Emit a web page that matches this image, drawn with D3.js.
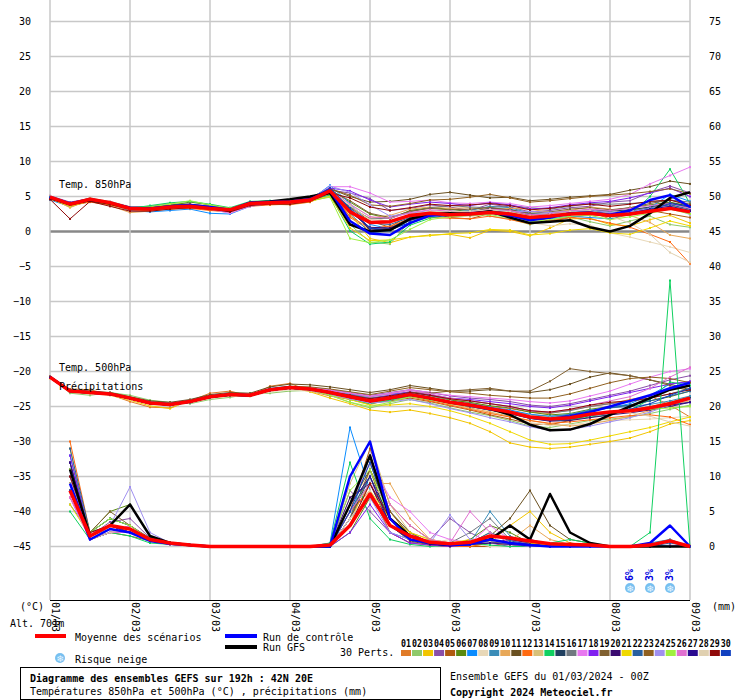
<!DOCTYPE html>
<html><head><meta charset="utf-8">
<script src="https://cdn.jsdelivr.net/npm/d3@7"></script>
<style>body{margin:0;background:#fff}text{font-family:"DejaVu Sans Mono",monospace;font-size:10px}</style>
</head><body><svg id="c" width="740" height="700"></svg>
<script>
const dates=["01/03","02/03","03/03","04/03","05/03","06/03","07/03","08/03","09/03"];
const leftTicks=[30,25,20,15,10,5,0,-5,-10,-15,-20,-25,-30,-35,-40,-45];
const rightTicks=[75,70,65,60,55,50,45,40,35,30,25,20,15,10,5,0];
const colors=["#e07b28","#8fc96a","#f2c500","#8a4fa8","#b05a10","#5a8a10","#0a8cff","#e8d8b8","#3a8cb8","#e8a858","#6a5020","#ff6a10","#d8c078","#10d060","#204060","#707880","#e878f0","#8020f0","#806030","#3a0a70","#f0d800","#2860a0","#906020","#a090f0","#a0f040","#e070d0","#2a0a90","#e0d0b0","#900a0a","#1040c0"];
const snowRisk=[{i:29,p:"6%"},{i:30,p:"3%"},{i:31,p:"3%"}];

const mean850=[4.9,3.9,4.6,4.1,3.3,3.2,3.5,3.6,3.3,3.1,4.0,4.1,4.2,4.5,5.8,2.8,1.3,1.4,2.3,2.6,2.4,2.5,2.7,2.5,2.0,2.2,2.5,2.6,2.3,2.5,2.9,3.3,2.8];
const ctrl850=[4.9,4.0,4.6,4.1,3.4,3.3,3.6,3.8,3.5,3.1,4.1,4.2,4.3,4.6,5.9,1.5,-0.3,-0.5,1.2,2.3,2.4,2.5,2.8,2.3,1.6,2.0,2.6,2.7,2.4,3.0,4.5,5.2,3.5];
const gfs850=[4.8,3.9,4.5,4.0,3.3,3.2,3.5,3.7,3.4,3.0,4.1,4.3,4.6,5.0,5.5,1.0,0.0,0.2,1.8,2.5,2.6,2.5,2.9,2.0,1.2,1.4,1.6,0.6,0.0,0.8,2.6,4.8,5.6];
const pert850=[
[4.7,3.5,4.4,3.9,3.0,3.3,3.6,3.8,3.2,2.9,3.9,4.2,4.0,4.6,6.2,2.0,0.2,0.5,2.0,2.8,2.2,2.6,3.0,2.0,1.5,2.6,3.0,2.8,1.8,2.4,3.5,4.0,3.4],
[5.0,4.0,4.8,4.2,3.4,3.6,4.0,3.9,3.0,3.2,4.1,4.0,4.4,4.8,5.5,1.0,-1.5,-1.8,1.5,2.4,2.7,3.0,2.2,1.8,1.0,1.6,2.1,1.4,0.8,1.5,2.2,1.0,0.6],
[4.6,3.8,4.5,4.0,3.1,3.0,3.2,3.5,3.4,3.0,3.8,4.0,4.2,4.4,5.0,2.5,-1.0,-1.6,-0.8,-0.5,-0.4,-0.9,0.2,0.0,-0.6,0.5,1.8,1.9,1.0,0.8,1.7,2.3,1.2],
[5.1,4.2,4.7,4.3,3.5,3.4,3.8,3.9,3.6,3.2,4.0,4.3,4.1,4.7,5.9,5.5,4.7,3.0,3.3,3.8,3.5,3.0,3.9,3.5,2.8,3.0,3.4,3.6,4.2,4.4,5.6,6.5,5.5],
[4.8,3.7,4.3,3.8,3.2,3.1,3.3,3.4,3.3,3.0,3.9,4.0,3.9,4.3,5.6,3.5,1.5,0.6,2.5,2.7,2.0,1.8,2.6,2.9,2.3,1.4,2.0,2.4,2.2,3.2,3.0,2.5,2.0],
[4.9,4.0,4.6,4.1,3.3,3.5,3.7,4.2,3.8,3.3,4.2,4.3,4.3,4.8,6.0,4.2,2.5,1.8,3.0,3.4,3.2,2.8,3.3,3.0,1.6,1.9,2.8,2.9,3.0,3.4,3.8,4.2,3.6],
[4.5,3.6,4.4,4.0,3.0,2.8,3.0,3.2,2.6,2.5,3.6,4.0,4.0,4.5,6.6,4.0,1.0,0.4,1.2,2.1,2.6,2.4,2.8,3.2,2.5,1.8,2.2,2.0,1.8,2.6,3.4,5.3,4.3],
[5.0,3.9,4.8,4.3,3.6,3.4,3.5,3.6,3.4,3.1,4.1,4.1,4.2,4.6,5.9,3.9,2.2,1.3,1.9,2.5,2.3,2.1,2.6,2.0,1.3,0.8,1.1,0.9,-0.2,-0.8,-1.5,-2.2,-3.0],
[4.7,3.8,4.5,4.0,3.2,3.3,3.4,3.7,3.5,3.0,4.0,4.1,4.1,4.4,5.7,2.6,-0.2,0.1,1.6,2.2,2.8,3.0,3.6,3.4,2.6,2.4,2.9,3.1,2.6,2.7,3.2,3.9,3.0],
[4.8,3.4,4.6,3.7,2.7,2.9,3.3,3.5,3.1,2.7,3.7,3.9,3.8,4.2,5.5,3.3,1.9,2.3,3.2,3.5,3.3,3.4,3.1,3.3,3.2,2.7,3.0,3.5,3.2,2.3,1.3,-0.5,-1.0],
[5.0,4.0,4.7,4.2,3.5,3.5,3.8,3.9,3.6,3.2,4.1,4.3,4.4,4.9,6.1,5.0,4.2,4.3,4.6,5.3,5.6,5.2,4.8,4.9,4.4,4.6,4.9,5.1,5.3,5.9,6.4,7.2,6.8],
[4.6,3.7,4.2,3.8,3.1,3.0,3.2,3.3,3.0,2.8,3.6,3.8,3.9,4.2,5.4,2.2,0.4,0.8,1.8,2.0,1.9,1.8,2.2,1.7,1.1,1.5,2.0,1.8,1.2,0.6,-0.4,-1.5,-4.6],
[4.9,3.9,4.6,4.1,3.4,3.3,3.6,3.8,3.6,3.2,4.0,4.2,4.2,4.6,5.8,3.0,1.2,1.3,2.2,2.5,2.6,2.8,3.1,2.6,2.1,2.3,2.7,2.9,2.6,3.0,3.5,3.7,3.1],
[4.8,3.8,4.5,4.0,3.3,3.7,4.1,4.3,3.9,3.4,4.3,4.4,4.3,4.6,5.2,0.1,-1.8,-1.5,0.9,1.9,2.4,2.6,2.9,2.4,1.7,2.0,2.5,2.6,2.1,2.4,5.0,8.9,4.0],
[4.9,3.8,4.5,4.0,3.3,3.3,3.6,3.8,3.5,3.1,4.0,4.1,4.2,4.7,6.3,3.2,0.2,0.4,1.9,2.7,2.9,2.8,3.3,3.1,2.4,2.5,2.8,3.0,2.9,3.1,3.5,4.1,3.6],
[4.7,3.7,4.4,4.0,3.2,3.1,3.3,3.6,3.4,3.0,3.9,4.0,4.0,4.4,5.6,3.6,1.8,1.9,2.8,3.4,3.7,3.5,3.4,3.7,3.4,3.2,3.6,4.0,3.9,4.0,4.2,4.5,4.2],
[5.0,4.0,4.7,4.2,3.4,3.3,3.5,3.8,3.2,2.6,3.6,4.0,4.1,4.5,6.4,6.4,5.5,4.2,4.3,4.5,4.1,4.0,4.2,4.0,3.5,3.7,4.0,4.3,4.6,5.3,6.8,8.0,9.2],
[4.8,3.8,4.6,4.1,3.3,3.2,3.4,3.7,3.4,3.0,4.0,4.1,4.2,4.6,6.2,5.8,4.5,3.5,3.9,4.2,4.0,3.7,4.1,3.8,3.2,3.4,3.8,4.1,4.3,4.8,5.5,6.2,5.0],
[4.9,3.9,4.6,4.1,3.3,3.3,3.5,3.7,3.5,3.1,4.1,4.2,4.2,4.6,5.9,4.4,2.6,2.0,2.9,3.3,3.1,3.2,3.4,3.1,2.6,2.8,3.2,3.4,3.1,3.4,4.0,4.5,3.9],
[4.8,3.9,4.5,4.0,3.2,3.2,3.4,3.6,3.4,3.0,3.9,4.1,4.1,4.5,5.8,2.8,0.6,0.5,1.7,2.3,2.2,2.3,2.6,2.2,1.8,2.2,2.6,2.7,2.2,2.5,3.0,3.4,2.9],
[4.7,3.6,4.4,3.9,3.2,3.1,3.3,3.5,3.3,2.9,3.8,3.9,4.0,4.3,5.0,0.5,-1.3,-1.2,-0.8,-0.6,-0.3,-0.2,0.3,0.2,-0.5,-0.3,0.2,0.4,-0.2,-0.4,0.5,1.5,0.8],
[4.9,3.8,4.6,4.1,3.3,3.2,3.4,3.6,3.4,3.0,4.0,4.1,4.2,4.6,6.0,3.4,1.2,1.0,2.0,2.6,2.5,2.6,2.9,2.6,2.0,2.2,2.6,2.8,2.5,2.8,3.4,3.8,3.2],
[5.0,4.0,4.7,4.2,3.4,3.4,3.6,3.8,3.6,3.2,4.1,4.2,4.3,4.7,6.1,5.2,3.8,3.6,4.0,4.5,4.6,4.9,5.3,4.8,4.2,4.4,4.7,5.0,5.2,5.4,5.7,6.1,5.4],
[4.8,3.8,4.5,4.0,3.2,3.1,3.3,3.5,3.2,2.8,3.8,4.0,4.1,4.6,6.5,5.6,3.8,2.2,2.6,3.0,2.6,2.4,2.5,2.8,2.9,2.7,2.9,3.1,2.7,2.8,3.3,3.6,2.4],
[4.8,3.7,4.5,4.0,3.3,3.5,3.9,4.4,3.8,3.3,4.1,4.2,4.2,4.4,4.9,-1.0,-1.6,-1.2,0.3,1.7,2.1,2.3,2.4,2.0,1.4,1.7,2.2,2.3,1.7,2.1,2.6,3.2,2.5],
[4.9,3.9,4.6,4.1,3.3,3.2,3.4,3.6,3.3,2.9,3.9,4.1,4.2,4.6,5.9,3.9,2.1,1.9,2.7,3.1,2.9,2.8,3.2,3.0,2.4,2.5,2.9,3.2,3.0,3.3,3.7,4.0,3.3],
[4.7,3.8,4.4,4.0,3.2,3.2,3.4,3.6,3.4,3.0,3.9,4.0,4.1,4.5,6.0,3.1,0.4,0.3,1.6,2.4,2.6,2.7,3.0,2.7,2.0,2.1,2.5,2.7,2.3,2.6,3.2,3.6,3.0],
[5.0,4.0,4.7,4.2,3.4,3.3,3.5,3.7,3.5,3.1,4.0,4.2,4.2,4.6,5.8,3.7,1.7,1.5,2.4,2.9,2.8,2.9,3.1,2.8,2.2,2.4,2.8,3.0,2.2,1.2,-0.4,-3.0,-4.4],
[4.6,1.8,4.3,3.6,2.9,2.9,3.2,3.4,3.2,2.8,3.7,3.9,3.9,4.3,5.5,4.8,3.5,3.0,3.4,3.9,3.7,3.8,4.0,3.7,3.1,3.3,3.7,3.9,3.6,3.9,4.3,4.5,3.7],
[4.9,3.9,4.6,4.1,3.4,3.4,3.6,3.8,3.5,3.1,4.0,4.2,4.3,4.7,6.2,3.3,0.5,0.2,1.3,2.2,2.5,2.6,2.9,2.5,1.8,2.0,2.4,2.6,2.2,2.5,3.1,4.0,3.5]];

const mean500=[-20.8,-22.8,-23.0,-23.2,-23.8,-24.5,-24.7,-24.3,-23.6,-23.3,-23.4,-22.6,-22.3,-22.5,-23.0,-23.6,-24.2,-23.8,-23.3,-23.8,-24.4,-24.8,-25.3,-25.8,-26.5,-26.8,-26.6,-26.1,-25.8,-25.6,-25.2,-24.6,-23.8];
const ctrl500=[-20.8,-22.8,-23.0,-23.2,-23.8,-24.5,-24.7,-24.3,-23.6,-23.3,-23.4,-22.6,-22.3,-22.5,-23.0,-23.6,-24.2,-23.8,-23.3,-23.8,-24.4,-24.8,-25.3,-25.8,-26.5,-26.8,-26.4,-25.8,-25.0,-24.2,-23.4,-22.4,-21.6];
const gfs500=[-20.8,-22.8,-23.0,-23.2,-23.8,-24.5,-24.7,-24.3,-23.6,-23.3,-23.4,-22.6,-22.3,-22.5,-23.0,-23.6,-24.2,-23.8,-23.3,-23.8,-24.4,-24.8,-25.3,-26.2,-27.6,-28.4,-28.3,-27.5,-26.2,-25.0,-23.8,-22.6,-22.0];
const pert500=[
[-20.9,-22.5,-22.6,-23.3,-24.3,-25.1,-25.2,-24.2,-23.1,-22.8,-23.5,-22.1,-21.7,-22.8,-23.5,-24.0,-24.7,-24.0,-23.0,-23.4,-24.0,-24.5,-25.0,-25.3,-25.8,-26.0,-25.5,-25.0,-24.6,-24.0,-23.5,-24.8,-26.5],
[-20.7,-23.1,-23.4,-23.0,-23.4,-24.1,-24.4,-24.6,-24.0,-23.7,-23.2,-23.1,-22.8,-22.7,-23.4,-24.4,-25.2,-24.6,-24.0,-24.5,-25.2,-25.8,-26.3,-27.0,-27.8,-28.0,-27.5,-27.0,-26.8,-26.5,-26.0,-25.4,-24.8],
[-21.0,-22.8,-23.0,-23.4,-24.1,-24.9,-25.3,-24.1,-23.5,-23.2,-23.3,-22.5,-22.2,-22.9,-23.8,-24.6,-25.5,-25.8,-25.5,-26.0,-26.6,-27.4,-28.6,-30.2,-30.8,-31.0,-30.8,-30.4,-30.0,-29.5,-28.6,-27.5,-27.0],
[-20.8,-22.7,-23.0,-23.1,-23.7,-24.4,-24.7,-24.4,-23.7,-23.4,-23.4,-22.7,-22.3,-22.3,-22.6,-23.0,-23.4,-23.0,-22.6,-23.0,-23.5,-23.8,-24.0,-24.3,-24.8,-25.0,-24.6,-24.0,-23.4,-22.8,-22.0,-21.2,-20.6],
[-20.9,-22.9,-23.1,-23.3,-23.9,-24.6,-24.8,-24.3,-23.6,-23.3,-23.5,-22.6,-22.2,-22.4,-23.1,-23.8,-24.5,-24.2,-23.8,-24.3,-24.9,-25.5,-26.2,-26.8,-27.5,-27.6,-27.0,-26.2,-25.8,-25.5,-25.0,-24.4,-23.6],
[-20.8,-22.8,-22.9,-23.2,-23.8,-24.5,-24.6,-24.2,-23.5,-23.3,-23.3,-22.5,-22.3,-22.5,-22.9,-23.3,-23.8,-23.5,-23.0,-23.5,-24.1,-24.4,-24.9,-25.2,-25.8,-26.2,-26.0,-25.4,-25.0,-24.8,-24.2,-23.6,-22.8],
[-20.7,-22.6,-22.8,-23.1,-23.7,-24.3,-24.5,-24.1,-23.4,-23.1,-23.3,-22.4,-22.1,-22.4,-22.8,-23.2,-23.6,-23.2,-23.0,-23.6,-24.2,-24.6,-25.1,-25.5,-26.1,-26.4,-26.2,-25.7,-25.2,-24.6,-23.4,-21.8,-21.5],
[-21.0,-22.9,-23.2,-23.4,-24.0,-24.7,-24.9,-24.5,-23.8,-23.5,-23.6,-22.9,-22.6,-22.8,-23.3,-23.8,-24.3,-24.0,-23.6,-24.1,-24.8,-25.3,-25.9,-26.5,-27.3,-27.7,-27.6,-27.3,-27.0,-26.9,-26.8,-26.6,-26.4],
[-20.8,-22.7,-22.9,-23.2,-23.8,-24.5,-24.7,-24.3,-23.6,-23.3,-23.4,-22.6,-22.3,-22.5,-23.0,-23.5,-24.0,-23.6,-23.1,-23.7,-24.3,-24.7,-25.2,-25.6,-26.2,-26.4,-26.1,-25.5,-25.2,-25.0,-24.7,-24.2,-23.5],
[-20.9,-22.8,-23.0,-23.3,-23.9,-24.6,-24.8,-24.4,-23.7,-23.4,-23.5,-22.7,-22.4,-22.6,-23.1,-23.6,-24.2,-23.9,-23.5,-24.0,-24.6,-25.2,-25.8,-26.4,-27.0,-27.5,-27.8,-27.5,-27.0,-26.4,-25.6,-24.8,-24.2],
[-20.7,-22.6,-22.8,-23.0,-23.6,-24.2,-24.4,-24.0,-23.3,-23.0,-23.1,-22.2,-21.8,-21.9,-22.2,-22.6,-23.0,-22.6,-22.0,-22.4,-22.8,-22.8,-22.6,-22.8,-23.0,-22.6,-21.8,-20.8,-20.2,-20.6,-21.2,-21.8,-22.6],
[-20.9,-22.9,-23.1,-23.3,-23.9,-24.6,-24.8,-24.4,-23.7,-23.4,-23.5,-22.7,-22.4,-22.7,-23.2,-23.8,-24.4,-24.0,-23.6,-24.2,-24.8,-25.4,-26.0,-26.5,-27.0,-27.4,-27.2,-26.9,-26.6,-26.3,-26.2,-26.5,-27.6],
[-20.8,-22.8,-23.0,-23.2,-23.8,-24.5,-24.7,-24.3,-23.6,-23.3,-23.4,-22.6,-22.3,-22.5,-23.0,-23.6,-24.2,-23.8,-23.3,-23.9,-24.5,-25.0,-25.6,-26.1,-26.7,-27.0,-26.8,-26.3,-26.0,-25.8,-25.4,-24.9,-24.3],
[-20.8,-22.7,-22.9,-23.2,-23.8,-24.5,-24.7,-24.3,-23.6,-23.3,-23.4,-22.6,-22.3,-22.6,-23.2,-24.0,-24.6,-24.1,-23.5,-24.0,-24.5,-24.9,-25.4,-25.9,-26.6,-27.0,-26.9,-26.5,-26.2,-25.5,-24.0,-21.5,-22.0],
[-20.9,-22.8,-23.0,-23.3,-23.9,-24.6,-24.8,-24.3,-23.6,-23.3,-23.4,-22.6,-22.3,-22.5,-23.0,-23.5,-24.1,-23.7,-23.2,-23.8,-24.4,-24.8,-25.3,-25.8,-26.5,-26.8,-26.6,-26.1,-25.8,-25.6,-25.2,-24.6,-23.8],
[-20.8,-22.8,-23.0,-23.2,-23.8,-24.5,-24.7,-24.3,-23.6,-23.3,-23.4,-22.6,-22.3,-22.4,-22.8,-23.3,-23.8,-23.4,-22.9,-23.4,-23.9,-24.2,-24.6,-25.0,-25.6,-25.9,-25.6,-25.0,-24.6,-24.3,-23.8,-23.2,-22.4],
[-20.7,-22.7,-22.9,-23.1,-23.7,-24.4,-24.6,-24.2,-23.5,-23.2,-23.3,-22.5,-22.2,-22.3,-22.7,-23.1,-23.5,-23.1,-22.6,-23.0,-23.4,-23.6,-23.8,-24.0,-24.3,-24.5,-24.2,-23.5,-22.8,-21.8,-20.8,-20.0,-19.6],
[-20.8,-22.8,-23.0,-23.2,-23.8,-24.5,-24.7,-24.3,-23.6,-23.3,-23.4,-22.6,-22.3,-22.5,-22.9,-23.4,-23.9,-23.4,-22.9,-23.3,-23.8,-24.0,-24.3,-24.6,-25.0,-25.2,-24.8,-24.2,-23.6,-23.0,-22.4,-21.8,-21.4],
[-20.9,-22.8,-23.0,-23.3,-23.9,-24.6,-24.8,-24.4,-23.7,-23.4,-23.5,-22.7,-22.4,-22.6,-23.1,-23.6,-24.1,-23.6,-23.0,-23.1,-22.8,-22.6,-22.4,-22.8,-22.8,-21.4,-19.6,-20.0,-20.3,-20.6,-21.2,-22.0,-22.8],
[-20.8,-22.8,-23.0,-23.2,-23.8,-24.5,-24.7,-24.3,-23.6,-23.3,-23.4,-22.6,-22.3,-22.5,-23.0,-23.6,-24.2,-23.8,-23.4,-23.9,-24.5,-25.0,-25.5,-26.0,-26.7,-27.1,-27.0,-26.6,-26.2,-25.9,-25.5,-25.0,-24.4],
[-20.9,-22.9,-23.1,-23.3,-23.9,-24.6,-24.8,-24.4,-23.7,-23.4,-23.5,-22.7,-22.4,-22.7,-23.3,-24.0,-24.8,-24.8,-24.6,-25.0,-25.6,-26.4,-27.4,-28.6,-29.8,-30.4,-30.3,-29.8,-29.2,-28.6,-28.0,-27.2,-26.5],
[-20.8,-22.8,-23.0,-23.2,-23.8,-24.5,-24.7,-24.3,-23.6,-23.3,-23.4,-22.6,-22.3,-22.5,-23.0,-23.6,-24.2,-23.8,-23.3,-23.8,-24.4,-24.8,-25.3,-25.8,-26.4,-26.6,-26.2,-25.6,-25.2,-24.8,-24.2,-23.5,-22.8],
[-20.7,-22.7,-22.9,-23.1,-23.7,-24.4,-24.6,-24.2,-23.5,-23.2,-23.3,-22.5,-22.1,-22.2,-22.5,-22.9,-23.3,-22.8,-22.3,-22.6,-22.9,-23.1,-23.4,-23.6,-23.8,-23.8,-23.2,-22.4,-21.6,-21.0,-20.8,-21.0,-21.6],
[-20.9,-22.9,-23.1,-23.3,-23.9,-24.6,-24.8,-24.4,-23.7,-23.4,-23.5,-22.7,-22.4,-22.7,-23.3,-23.9,-24.5,-24.3,-24.0,-24.6,-25.3,-25.9,-26.6,-27.2,-27.9,-28.4,-28.3,-27.8,-27.2,-26.6,-25.8,-24.8,-24.0],
[-20.8,-22.7,-22.9,-23.2,-23.8,-24.5,-24.7,-24.3,-23.6,-23.3,-23.4,-22.6,-22.3,-22.6,-23.4,-24.4,-25.0,-24.4,-23.6,-24.0,-24.6,-25.0,-25.4,-25.8,-26.4,-26.6,-26.4,-26.0,-25.8,-25.6,-25.4,-25.2,-25.0],
[-20.8,-22.8,-23.0,-23.2,-23.8,-24.5,-24.7,-24.3,-23.6,-23.3,-23.4,-22.6,-22.3,-22.4,-22.7,-23.1,-23.6,-23.2,-22.7,-23.2,-23.8,-24.2,-24.6,-25.1,-25.6,-25.8,-25.4,-24.8,-24.2,-23.6,-22.4,-20.8,-19.4],
[-20.9,-22.8,-23.0,-23.3,-23.9,-24.6,-24.8,-24.4,-23.7,-23.4,-23.5,-22.7,-22.4,-22.6,-23.1,-23.6,-24.1,-23.7,-23.3,-23.8,-24.4,-24.9,-25.5,-26.0,-26.6,-26.9,-26.7,-26.2,-25.9,-25.6,-25.2,-24.8,-24.4],
[-20.8,-22.8,-23.0,-23.2,-23.8,-24.5,-24.7,-24.3,-23.6,-23.3,-23.4,-22.6,-22.3,-22.5,-23.0,-23.5,-24.0,-23.6,-23.1,-23.6,-24.2,-24.7,-25.2,-25.7,-26.3,-26.6,-26.4,-26.0,-25.8,-25.9,-26.4,-27.2,-27.8],
[-20.8,-22.7,-22.9,-23.2,-23.8,-24.5,-24.7,-24.3,-23.6,-23.3,-23.4,-22.6,-22.3,-22.5,-22.9,-23.4,-23.9,-23.5,-23.0,-23.4,-23.9,-24.2,-24.6,-25.0,-25.6,-25.8,-25.4,-24.8,-24.4,-24.2,-23.8,-23.2,-22.6],
[-20.9,-22.8,-23.0,-23.3,-23.9,-24.6,-24.8,-24.4,-23.7,-23.4,-23.5,-22.7,-22.4,-22.6,-23.1,-23.7,-24.3,-23.9,-23.4,-23.9,-24.5,-25.0,-25.5,-26.0,-26.7,-27.0,-26.8,-26.3,-26.0,-25.4,-24.6,-23.4,-22.4]];

const meanP=[null,8,1.5,3,2.5,1,0.5,0.2,0,0,0,0,0,0,0.2,3,7.5,3,1.5,0.6,0.4,0.6,1.5,1.2,0.8,0.4,0.3,0.2,0,0,0.2,0.8,0];
const ctrlP=[null,9,1,2.5,2,0.8,0.4,0.2,0,0,0,0,0,0,0,10,15,4,1,0.5,0.2,0.3,1,0.5,0.2,0,0,0,0,0,0.5,3,0];
const gfsP=[null,11,1.5,3,6,1.5,0.5,0.2,0,0,0,0,0,0,0,6,13,4,1.5,0.5,0.2,0.5,1,3,1,7.5,2,0.5,0,0,0,0,0];
const pertP=[
[null,12,1.5,3,2,0.8,0.5,0.3,0,0,0,0,0,0,0,4,9,3,1,0.5,0,0.3,1,0.5,0.2,0,0,0.5,0,0,0,0,0],
[null,9,2,4,3,1,0.5,0.2,0,0,0,0,0,0,0.2,6,12,4,2,0.4,0.1,0.5,2,1,0.3,0.2,0,0,0,0,0.3,1,0],
[null,14,1,2,2.5,1,0.4,0.1,0,0,0,0,0,0,0,3,11,5,1.5,0.3,0,0,0.5,3,5,2,0.5,0,0,0,0,0,0],
[null,7,1.5,3.5,4,1.2,0.6,0.3,0,0,0,0,0,0,0,8,5,2,0.5,1,4,2,0.5,0,0.2,0.5,0,0,0,0,0,0.2,0],
[null,11,1,2,1.5,0.8,0.4,0.2,0,0,0,0,0,0,0,5,14,6,3,1,0.2,0,0,0.5,1,0.3,0,0,0,0,0,0,0],
[null,8,2,5,6,1.5,0.5,0.3,0,0,0,0,0,0,0,2,7,3,1,0.5,0.2,1,3,2,0.5,0,0,0.3,0,0,0,0,0],
[null,13,1.5,2.5,2,1,0.5,0.2,0,0,0,0,0,0,0.5,17,8,2,1,0.3,0,0.4,0.8,0.3,0,0,0.5,0,0,0,0.3,0,0],
[null,10,1,3,2,0.7,0.3,0.2,0,0,0,0,0,0,0,7,10,4,1,0.5,1,0.5,0,0,0.3,0,0,0,0,0,0,0,0],
[null,6,2,4,3,1,0.4,0.2,0,0,0,0,0,0,0,4,13,5,2,0.5,0.3,0.5,5,1.5,0.4,0,0,0,0,0,0.5,1,0],
[null,12,1.5,3,2.5,1,0.5,0.2,0,0,0,0,0,0,0,3,9,9,4,1,0.5,0.3,0.5,0.8,3,1,0.3,0,0,0,0,0,0],
[null,9,1,2,3,1.2,0.6,0.3,0,0,0,0,0,0,0,6,11,3,0.8,0.2,0,0.2,1.5,4,8,3,1,0.5,0,0,0,0,0],
[null,15,2,3,2,0.8,0.3,0.1,0,0,0,0,0,0,0,5,8,2,0.5,0.2,0,0,0.5,0.3,0,0.2,0.5,0.2,0,0,0,0,0],
[null,8,1.5,3,2,1,0.5,0.2,0,0,0,0,0,0,0,9,15,6,2,1,0.5,0.3,1,0.5,0.2,0,0,0,0,0,0,0,0],
[null,5,1,2,1.5,0.5,0.3,0.1,0,0,0,0,0,0,0.5,12,4,1,0.3,0,0.2,0.5,0.2,0,0,0.5,1,0.5,0,0,2,38,0],
[null,11,2,4,3,1,0.5,0.2,0,0,0,0,0,0,0,4,10,4,1.5,0.5,0.2,0.4,0.8,0.3,0,0,0,0,0,0,0,0,0],
[null,10,1.5,3,2,0.8,0.4,0.2,0,0,0,0,0,0,0,5,9,3,1,0.5,0.5,2,4,1,0.3,0,0,0,0,0,0,0,0],
[null,7,1,2,3,1,0.5,0.3,0,0,0,0,0,0,0,6,12,7,5,2,1,0.5,3,1,0.3,0.5,0,0,0,0,0,0,0],
[null,13,1.5,3,2,1,0.4,0.2,0,0,0,0,0,0,0,2,6,2,0.5,0.2,0,0.3,1,3,1,0.3,0,0,0,0,0,0,0],
[null,9,2,5,3,1,0.5,0.2,0,0,0,0,0,0,0,4,11,5,2,0.5,0.2,0.5,0.6,0.3,0.2,0,0,0,0,0,0,0,0],
[null,12,1,2,2,0.8,0.3,0.1,0,0,0,0,0,0,0,7,9,3,1,0.3,0.1,0.3,0.5,1,0.5,0,0,0,0,0,0,0,0],
[null,6,1.5,3,2.5,1,0.5,0.2,0,0,0,0,0,0,0,3,8,4,2,1,0.5,1,0.5,0.3,0.5,0.2,0,0,0,0,0,0,0],
[null,14,2,3,2,1,0.4,0.2,0,0,0,0,0,0,0,5,10,3,1,0.5,0.2,0.5,2,0.8,0.3,0,0,0,0,0,0,0.5,0],
[null,8,1,2.5,2,0.8,0.4,0.2,0,0,0,0,0,0,0,6,13,5,1.5,0.5,0.3,0.5,1,0.5,0.2,0,0,0,0,0,0,0,0],
[null,10,1.5,3,8.5,2,0.5,0.2,0,0,0,0,0,0,0,4,7,2,1,0.5,4.5,1,0.5,0.3,0,0,0,0,0,0,0,0,0],
[null,11,2,4,3,1,0.5,0.3,0,0,0,0,0,0,0.3,8,11,4,1,0.5,0.2,0.5,1,0.5,0.2,0,0,0,0,0,0,0,0],
[null,7,1,2,2,0.8,0.3,0.1,0,0,0,0,0,0,0,5,9,6,3,1,0.5,5,2,0.5,0.2,0,0,0,0,0,0,0,0],
[null,12,1.5,3,2,1,0.5,0.2,0,0,0,0,0,0,0,6,10,3,1,0.5,0.2,0.3,0.5,0.3,0.1,0,0,0,0,0,0,0,0],
[null,9,1,2,2.5,1,0.4,0.2,0,0,0,0,0,0,0,4,8,3,1.5,0.5,0.3,0.5,0.8,0.5,0.2,0,0,0,0,0,0,0,0],
[null,10,2,3,2,0.8,0.4,0.2,0,0,0,0,0,0,0,3,9,4,1,0.5,0.2,0.5,1,0.5,0.3,0,0,0,0,0,0,0,0],
[null,8,1.5,3,2,1,0.5,0.2,0,0,0,0,0,0,0,5,12,4,1.5,0.5,0.2,0.5,1,0.5,0.2,0,0,0,0,0,0,0,0]];

const svg=d3.select("#c");
const x=d3.scaleLinear().domain([0,192]).range([50,690]);
const y=d3.scaleLinear().domain([-45,30]).range([546.5,21.5]);
const yR=d3.scaleLinear().domain([0,75]).range([546.5,21.5]);
const hours=d3.range(33).map(i=>i*6);

svg.append("g").selectAll("line").data(leftTicks).join("line")
 .attr("x1",50).attr("x2",690).attr("y1",d=>y(d)).attr("y2",d=>y(d))
 .attr("stroke",d=>d===0?"#888":"#c8c8c8").attr("stroke-width",d=>d===0?2.5:1.5);
svg.append("g").selectAll("line").data(dates).join("line")
 .attr("x1",(d,i)=>x(i*24)).attr("x2",(d,i)=>x(i*24)).attr("y1",0).attr("y2",600)
 .attr("stroke","#c8c8c8").attr("stroke-width",1.5);
svg.append("line").attr("x1",50).attr("x2",690).attr("y1",600.5).attr("y2",600.5).attr("stroke","#000");

const axL=d3.axisLeft(y).tickValues(leftTicks).tickSize(0).tickPadding(0);
svg.append("g").attr("transform","translate(31,0)").call(axL).call(g=>g.select(".domain").remove())
 .selectAll("text").attr("font-family","DejaVu Sans Mono").attr("font-size",10).attr("fill","#000");
const axR=d3.axisRight(yR).tickValues(rightTicks).tickSize(0).tickPadding(0);
svg.append("g").attr("transform","translate(709,0)").call(axR).call(g=>g.select(".domain").remove())
 .selectAll("text").attr("font-family","DejaVu Sans Mono").attr("font-size",10).attr("fill","#000");

const line=d3.line().defined(d=>d!=null).x((d,i)=>x(hours[i])).y(d=>y(d));
const lineP=d3.line().defined(d=>d!=null).x((d,i)=>x(hours[i])).y(d=>yR(d));
function draw(arr,col,w,gen){svg.append("path").datum(arr).attr("d",gen).attr("fill","none").attr("stroke",col).attr("stroke-width",w).attr("stroke-linejoin","round");}
function drawPts(arr,col,sy){svg.append("g").selectAll("rect").data(arr.map((v,i)=>[i,v]).filter(d=>d[1]!=null)).join("rect")
 .attr("x",d=>x(hours[d[0]])-1).attr("y",d=>sy(d[1])-1).attr("width",2).attr("height",2).attr("fill",col);}
[[pert850,line,y],[pert500,line,y],[pertP,lineP,yR]].forEach(([set,gen,sy])=>{
 set.forEach((s,k)=>{draw(s,colors[k],1,gen);drawPts(s,colors[k],sy);});
});
[[gfs850,ctrl850,mean850,line],[gfs500,ctrl500,mean500,line],[gfsP,ctrlP,meanP,lineP]].forEach(([g,c,m,gen])=>{
 draw(g,"#000",2.5,gen);draw(c,"#0000ff",2.5,gen);draw(m,"#ff0000",3.5,gen);
});

const T=(t,xx,yy,o={})=>{const e=svg.append("text").attr("x",xx).attr("y",yy).text(t);for(const k in o)e.attr(k,o[k]);return e;};
function snow(cx,cy){svg.append("circle").attr("cx",cx).attr("cy",cy).attr("r",5).attr("fill","#78c0f0");
 T("❄",cx,cy+3.5,{"text-anchor":"middle","fill":"#e8f6ff","font-size":9});}
T("Temp. 850hPa",59,188);T("Temp. 500hPa",59,371);T("Précipitations",59,390);
snowRisk.forEach(s=>{const xx=x(hours[s.i]);
 snow(xx,588);
 T(s.p,xx+2.5,581,{"transform":`rotate(-90,${xx+2.5},581)`,"font-size":7,"fill":"#0000e0","font-weight":"bold"});});
dates.forEach((d,i)=>{const xx=x(i*24)+2;T(d,xx,602,{"transform":`rotate(90,${xx},602)`});});
T("(°C)",20,610);T("(mm)",712,610);T("Alt. 701m",10,627);
svg.append("line").attr("x1",35).attr("x2",66).attr("y1",636).attr("y2",636).attr("stroke","#ff0000").attr("stroke-width",4);
T("Moyenne des scénarios",75,641);
svg.append("line").attr("x1",225).attr("x2",257).attr("y1",636).attr("y2",636).attr("stroke","#0000ff").attr("stroke-width",4);
T("Run de contrôle",263,641);
svg.append("line").attr("x1",225).attr("x2",257).attr("y1",647).attr("y2",647).attr("stroke","#000").attr("stroke-width",4);
T("Run GFS",263,651);
snow(60,658);
T("Risque neige",75,663);
T("30 Perts.",340,656);
colors.forEach((c,k)=>{const xx=401+k*11.03;
 svg.append("rect").attr("x",xx).attr("y",650).attr("width",10).attr("height",6).attr("fill",c);
 T(String(k+1).padStart(2,"0"),xx+5,647,{"text-anchor":"middle","font-size":7,"font-weight":"bold","textLength":10,"lengthAdjust":"spacingAndGlyphs"});});
svg.append("rect").attr("x",20.5).attr("y",667.5).attr("width",420).attr("height",32).attr("fill","none").attr("stroke","#000");
T("Diagramme des ensembles GEFS sur 192h : 42N 20E",30,682,{"font-weight":"bold","font-size":11});
T("Températures 850hPa et 500hPa (°C) , précipitations (mm)",30,695);
T("Ensemble GEFS du 01/03/2024 - 00Z",450,680);
T("Copyright 2024 Meteociel.fr",450,696,{"font-weight":"bold","font-size":11});
</script></body></html>
